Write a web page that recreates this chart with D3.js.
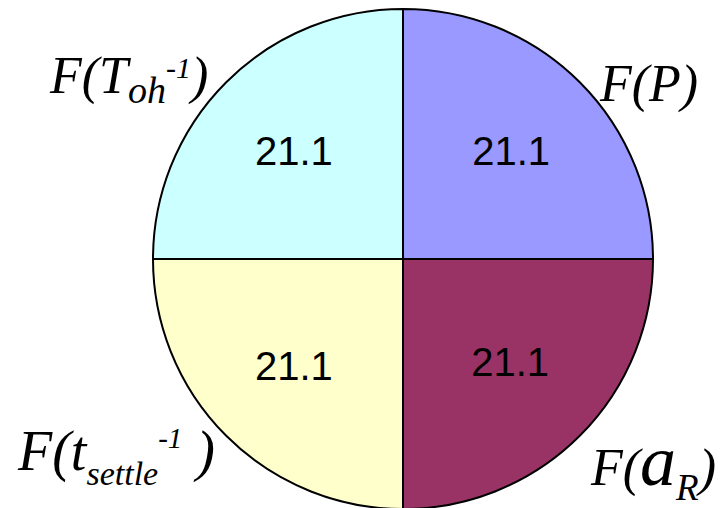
<!DOCTYPE html>
<html><head><meta charset="utf-8">
<script src="https://cdn.jsdelivr.net/npm/d3@7"></script>
<style>html,body{margin:0;padding:0;background:#fff;}svg{display:block;}</style>
</head><body>
<script>
const categories = ["F(P)", "F(a_R)", "F(t_settle^-1)", "F(T_oh^-1)"];
const values = [21.1, 21.1, 21.1, 21.1];
const valueLabels = ["21.1", "21.1", "21.1", "21.1"];
const colors = ["#9999FF", "#993366", "#FFFFCC", "#CCFFFF"];

const W = 722, H = 508;
const cx = 403, cy = 259, R = 250;

const svg = d3.select("body").append("svg").attr("width", W).attr("height", H);
const g = svg.append("g").attr("transform", `translate(${cx},${cy})`);

const pie = d3.pie().sort(null).value(d => d)(values);
const arc = d3.arc().innerRadius(0).outerRadius(R);
const labelArc = d3.arc().innerRadius(153).outerRadius(153);

g.selectAll("path.slice").data(pie).join("path")
  .attr("class", "slice")
  .attr("d", arc)
  .attr("fill", (d, i) => colors[i])
  .attr("stroke", "#000").attr("stroke-width", 2).attr("stroke-linejoin", "round");

const nudges = [[0, 0], [-1, -6], [-1, -2], [-1, 0]];
g.selectAll("text.val").data(pie).join("text")
  .attr("class", "val")
  .attr("x", (d, i) => labelArc.centroid(d)[0] + nudges[i][0])
  .attr("y", (d, i) => labelArc.centroid(d)[1] + nudges[i][1])
  .attr("dy", "0.36em")
  .attr("text-anchor", "middle")
  .attr("font-family", "'Liberation Sans', Arial, sans-serif")
  .attr("font-size", 40)
  .attr("fill", "#000")
  .text((d, i) => valueLabels[i]);

// Category labels rendered with sub/superscripts
const nameParts = [
  { x: 600, y: 101, parts: [["F(P)", 52, 0]] },
  { x: 591, y: 485, parts: [["F(", 52, 0], ["a", 72, 0], ["R", 37, 15], [")", 52, 0]] },
  { x: 18, y: 470, parts: [["F(t", 56, 0], ["settle", 34, 15], ["-1", 29, -22], ["\u00a0)", 56, 0]] },
  { x: 50, y: 93, parts: [["F(T", 52, 0], ["oh", 38, 10], ["-1", 30, -15], [")", 52, 0]] }
];

nameParts.forEach(lab => {
  const t = svg.append("text")
    .attr("x", lab.x).attr("y", lab.y)
    .attr("font-family", "'Liberation Serif', 'Times New Roman', serif")
    .attr("font-style", "italic")
    .attr("fill", "#000");
  let cur = 0;
  lab.parts.forEach(p => {
    t.append("tspan")
      .attr("font-size", p[1])
      .attr("dy", p[2] - cur)
      .text(p[0]);
    cur = p[2];
  });
});
</script>
</body></html>
